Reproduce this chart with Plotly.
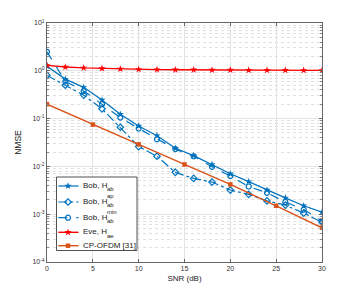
import plotly.graph_objects as go

snr = [0, 2, 4, 6, 8, 10, 12, 14, 16, 18, 20, 22, 24, 26, 28, 30]
snr_cp = [0, 5, 10, 15, 20, 25, 30]

bob_hab = [1.25, 0.67, 0.45, 0.245, 0.123, 0.07, 0.044, 0.024, 0.0168, 0.011, 0.0070, 0.0048, 0.0032, 0.0022, 0.0015, 0.0011]
bob_ap = [0.80, 0.50, 0.31, 0.16, 0.066, 0.026, 0.0163, 0.0075, 0.0056, 0.0047, 0.0032, 0.0026, 0.0019, 0.00155, 0.00105, 0.00068]
bob_min = [2.5, 0.60, 0.38, 0.20, 0.105, 0.062, 0.037, 0.023, 0.0163, 0.0098, 0.0063, 0.0038, 0.0028, 0.0018, 0.00125, 0.00072]
eve_hae = [1.3, 1.2, 1.15, 1.12, 1.09, 1.07, 1.06, 1.05, 1.05, 1.04, 1.04, 1.03, 1.03, 1.03, 1.02, 1.02]
cp_ofdm = [0.2, 0.075, 0.029, 0.011, 0.0042, 0.0015, 0.00052]

y_tickvals = [1e-4, 1e-3, 1e-2, 1e-1, 1e0, 1e1]
y_ticktext = ["10<sup>-4</sup>", "10<sup>-3</sup>", "10<sup>-2</sup>", "10<sup>-1</sup>", "10<sup>0</sup>", "10<sup>1</sup>"]
x_tickvals = [0, 5, 10, 15, 20, 25, 30]

# legend labels: (main text, subscript, superscript)
legend_main = ["Bob, H", "Bob, H", "Bob, H", "Eve, H", "CP-OFDM [31]"]
legend_sub = ["ab", "ab", "ab", "ae", ""]
legend_sup = ["", "ap", "min", "", ""]

blue = "#0072BD"
red = "#FF0000"
orange = "#D95319"
FONT = "Liberation Sans, Arial"

series = [
    dict(x=snr, y=bob_hab, color=blue, dash="solid", width=1.2,
         marker=dict(symbol="star", size=5.5, color=blue)),
    dict(x=snr, y=bob_ap, color=blue, dash="dashdot", width=1.2,
         marker=dict(symbol="diamond-open", size=5, color=blue, line=dict(width=1.2))),
    dict(x=snr, y=bob_min, color=blue, dash="dash", width=1.2,
         marker=dict(symbol="circle-open", size=5, color=blue, line=dict(width=1.2))),
    dict(x=snr, y=eve_hae, color=red, dash="solid", width=1.4,
         marker=dict(symbol="star", size=5.5, color=red)),
    dict(x=snr_cp, y=cp_ofdm, color=orange, dash="solid", width=1.4,
         marker=dict(symbol="square", size=4.5, color=orange)),
]

fig = go.Figure()
for i, s in enumerate(series):
    name = legend_main[i] + (f"<sub>{legend_sub[i]}</sub>" if legend_sub[i] else "")
    fig.add_trace(go.Scatter(x=s["x"], y=s["y"], name=name, mode="lines+markers", showlegend=False,
                             line=dict(color=s["color"], width=s["width"], dash=s["dash"]),
                             marker=s["marker"]))

# ---- manual legend (screen-pixel based overlay axes) ----
OFF = 8  # page body margin
L, R, T, B = 47, 322, 23, 262
def py(v):
    return B - v

box_x0, box_x1, box_y0, box_y1 = 56.5, 137, 177, 250.5
fig.add_trace(go.Scatter(x=[box_x0, box_x1, box_x1, box_x0, box_x0],
                         y=[py(box_y0), py(box_y0), py(box_y1), py(box_y1), py(box_y0)],
                         mode="lines", fill="toself", fillcolor="white",
                         line=dict(color="#262626", width=0.8), xaxis="x2", yaxis="y2",
                         showlegend=False, hoverinfo="skip"))
entry_y = [186, 202, 217.7, 232.3, 245.7]
for i, s in enumerate(series):
    yy = py(entry_y[i])
    fig.add_trace(go.Scatter(x=[58.3, 78.5], y=[yy, yy], mode="lines", xaxis="x2", yaxis="y2",
                             line=dict(color=s["color"], width=s["width"], dash=s["dash"]),
                             showlegend=False, hoverinfo="skip"))
    fig.add_trace(go.Scatter(x=[68], y=[yy], mode="markers", xaxis="x2", yaxis="y2",
                             marker=s["marker"], showlegend=False, hoverinfo="skip"))

annotations = []
for i in range(5):
    yy = py(entry_y[i])
    annotations.append(dict(x=80.5, y=yy + 0.5, xref="x2", yref="y2", text=legend_main[i], showarrow=False,
                            xanchor="left", yanchor="middle", font=dict(size=8, color="#222222", family=FONT)))
    if legend_sub[i]:
        annotations.append(dict(x=105.3, y=yy - 3.3, xref="x2", yref="y2", text=legend_sub[i], showarrow=False,
                                xanchor="left", yanchor="middle", font=dict(size=6, color="#222222", family=FONT)))
    if legend_sup[i]:
        annotations.append(dict(x=105.3, y=yy + 5.6, xref="x2", yref="y2", text=legend_sup[i], showarrow=False,
                                xanchor="left", yanchor="middle", font=dict(size=6, color="#222222", family=FONT)))

axis_common = dict(showline=True, linecolor="#666666", linewidth=1, mirror="ticks",
                   ticks="inside", ticklen=3, tickcolor="#666666",
                   tickfont=dict(size=7, color="#333333", family=FONT),
                   gridcolor="#E4E4E4", zeroline=False, automargin=False)

W, H = 356, 294
ml, mt = L - OFF, T - OFF
mr = W - ml - (R - L)
mb = H - mt - (B - T)

fig.update_layout(
    xaxis=dict(range=[0, 30], tickmode="array", tickvals=x_tickvals,
               title=dict(text="SNR (dB)", font=dict(size=8, color="#222222", family=FONT), standoff=3),
               **axis_common),
    yaxis=dict(type="log", range=[-4, 1], tickmode="array", tickvals=y_tickvals, ticktext=y_ticktext,
               minor=dict(dtick="D1", showgrid=True, gridcolor="#E0E0E0", griddash="dot",
                          ticks="inside", ticklen=2, tickcolor="#888888"),
               title=dict(text="NMSE", font=dict(size=8.5, color="#222222", family=FONT), standoff=9),
               **axis_common),
    xaxis2=dict(overlaying="x", anchor="y2", range=[L, R], visible=False, fixedrange=True),
    yaxis2=dict(overlaying="y", anchor="x2", range=[0, B - T], visible=False, fixedrange=True),
    annotations=annotations,
    width=W, height=H, margin=dict(l=ml, r=mr, t=mt, b=mb, autoexpand=False),
    paper_bgcolor="white", plot_bgcolor="white",
    font=dict(family=FONT, color="#222222"),
    showlegend=False,
)

fig.write_html("out.html")
